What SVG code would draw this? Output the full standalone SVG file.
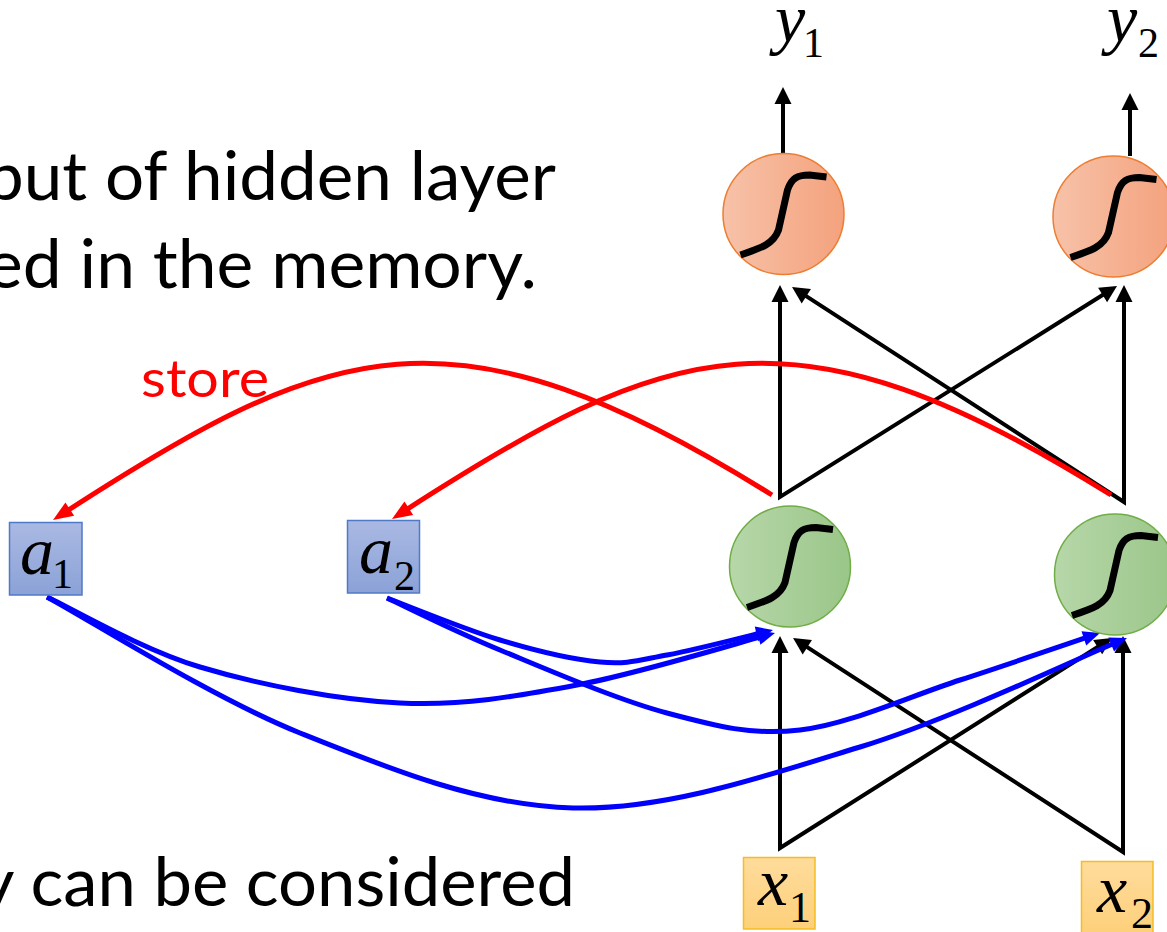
<svg xmlns="http://www.w3.org/2000/svg" xmlns:xlink="http://www.w3.org/1999/xlink" width="1167" height="932" viewBox="0 0 1167 932">
<style>
.txt{font-family:Lato,"Liberation Sans",sans-serif;fill:#000}
.math{font-family:"Liberation Serif","Times New Roman",serif;fill:#000}
.it{font-style:italic}
.blk{fill:none;stroke:#000;stroke-width:4;stroke-linejoin:miter}
.red{fill:none;stroke:#ff0000;stroke-width:5}
.blu{fill:none;stroke:#0000ff;stroke-width:5}
.sig{fill:none;stroke:#000;stroke-width:7}
.onode{fill:url(#gOr);stroke:#ed7d31;stroke-width:1.5}
.gnode{fill:url(#gGr);stroke:#70ad47;stroke-width:1.5}
.abox{fill:url(#gBl);stroke:#4f7ac8;stroke-width:1.5}
.xbox{fill:url(#gYe);stroke:#f5bd20;stroke-width:1.5}
</style>
<defs>
<linearGradient id="gOr" x1="0" y1="0" x2="1" y2="0"><stop offset="0" stop-color="#f7c2a9"/><stop offset="1" stop-color="#f4a27d"/></linearGradient>
<linearGradient id="gGr" x1="0" y1="0" x2="1" y2="0"><stop offset="0" stop-color="#b7d7a9"/><stop offset="1" stop-color="#9ac689"/></linearGradient>
<linearGradient id="gBl" x1="0" y1="0" x2="0" y2="1"><stop offset="0" stop-color="#aab9e3"/><stop offset="1" stop-color="#8ba2d7"/></linearGradient>
<linearGradient id="gYe" x1="0" y1="0" x2="0" y2="1"><stop offset="0" stop-color="#ffdc9c"/><stop offset="1" stop-color="#fdd07a"/></linearGradient>
<path id="sigmoid" class="sig" d="M-43,41 C-22,34 -10,30 -5,16 L4,-24 C8,-36 14,-39 26,-39 L43,-37"/>
<marker id="ab" markerUnits="userSpaceOnUse" orient="auto" overflow="visible" refX="0" refY="0" markerWidth="1" markerHeight="1"><path d="M9,0 L-8,-8.5 L-8,8.5 z" fill="#000"/></marker>
<marker id="abs" markerUnits="userSpaceOnUse" orient="auto-start-reverse" overflow="visible" refX="0" refY="0" markerWidth="1" markerHeight="1"><path d="M9,0 L-8,-8.5 L-8,8.5 z" fill="#000"/></marker>
<marker id="ar" markerUnits="userSpaceOnUse" orient="auto" overflow="visible" refX="0" refY="0" markerWidth="1" markerHeight="1"><path d="M10,0 L-10,-8 L-10,8 z" fill="#ff0000"/></marker>
<marker id="abl" markerUnits="userSpaceOnUse" orient="auto" overflow="visible" refX="0" refY="0" markerWidth="1" markerHeight="1"><path d="M10,0 L-7,-7.5 L-7,7.5 z" fill="#0000ff"/></marker>
</defs>
<rect width="1167" height="932" fill="#fff"/>

<g id="text-block">
<text class="txt" x="-15" y="200" font-size="68" textLength="571" lengthAdjust="spacingAndGlyphs">put of hidden layer</text>
<text class="txt" x="-14" y="288" font-size="68" textLength="551" lengthAdjust="spacingAndGlyphs">ed in the memory.</text>
<text class="txt" x="-21" y="906" font-size="68" textLength="596" lengthAdjust="spacingAndGlyphs">y can be considered</text>
<text class="txt" x="141" y="397" font-size="52" style="fill:#ff0000" textLength="128" lengthAdjust="spacingAndGlyphs">store</text>
</g>

<g id="connectors">
<path class="blk" d="M783,154 L783,96" marker-end="url(#ab)"/>
<path class="blk" d="M1130,156 L1130,102" marker-end="url(#ab)"/>
<path class="blk" d="M780,294 L780,497 L1109.4,290.8" marker-start="url(#abs)" marker-end="url(#ab)"/>
<path class="blk" d="M1124,294 L1124,502 L799.6,291.9" marker-start="url(#abs)" marker-end="url(#ab)"/>
<path class="blk" d="M780,645 L780,848 L1104.4,642.8" marker-start="url(#abs)" marker-end="url(#ab)"/>
<path class="blk" d="M1123,645 L1123,852 L800.6,642.9" marker-start="url(#abs)" marker-end="url(#ab)"/>

<path class="red" d="M772,495 C452,295 330,340 61.4,514.6" marker-end="url(#ar)"/>
<path class="red" d="M1111,495 C791,295 669,340 400.4,513.6" marker-end="url(#ar)"/>

<path class="blu" d="M47,597 C72.5,608.7 141.2,649.3 200,667 C258.8,684.7 337.2,700 400,703 C462.8,706 514.5,696.7 577,685 C639.5,673.3 742,641.7 765.3,635.6" marker-end="url(#abl)"/>
<path class="blu" d="M47,597 C89.2,619.7 212.3,697.8 300,733 C387.7,768.2 479.7,805.7 573,808 C666.3,810.3 767.7,775.3 860,747 C952.3,718.7 1082.5,656.2 1117.7,641.8" marker-end="url(#abl)"/>
<path class="blu" d="M387,598 C405.8,605 464.5,629.3 500,640 C535.5,650.7 572.2,659.5 600,662 C627.8,664.5 638.2,660.3 667,655 C695.8,649.7 755.3,634.2 763.3,632.3" marker-end="url(#abl)"/>
<path class="blu" d="M387,598 C405.8,606.7 453.3,630.8 500,650 C546.7,669.2 617,699.7 667,713 C717,726.3 751.2,735.5 800,730 C848.8,724.5 910,696.2 960,680 C1010,663.8 1076.7,640.8 1090.5,636.2" marker-end="url(#abl)"/>
</g>

<g id="y1"><text class="math" font-size="68"><tspan class="it" x="775" y="42">y</tspan><tspan x="803" y="57" font-size="42">1</tspan></text></g>
<g id="y2"><text class="math" font-size="68"><tspan class="it" x="1107" y="42">y</tspan><tspan x="1138" y="57" font-size="42">2</tspan></text></g>

<g id="out1" transform="translate(783.5,214)"><circle class="onode" r="60.5"/><use xlink:href="#sigmoid"/></g>
<g id="out2" transform="translate(1113.5,216.5)"><circle class="onode" r="60.5"/><use xlink:href="#sigmoid"/></g>
<g id="hid1" transform="translate(790,566.5)"><circle class="gnode" r="60.5"/><use xlink:href="#sigmoid"/></g>
<g id="hid2" transform="translate(1115,574.5)"><circle class="gnode" r="60.5"/><use xlink:href="#sigmoid"/></g>

<g id="a1"><rect class="abox" x="9.5" y="522.5" width="72.5" height="72.5"/><text class="math" font-size="68"><tspan class="it" x="20" y="574">a</tspan><tspan x="52" y="588" font-size="42">1</tspan></text></g>
<g id="a2"><rect class="abox" x="347.5" y="520.5" width="72" height="72.5"/><text class="math" font-size="68"><tspan class="it" x="359" y="573">a</tspan><tspan x="394" y="590" font-size="42">2</tspan></text></g>

<g id="x1"><rect class="xbox" x="743.5" y="857.5" width="71.5" height="71.5"/><text class="math" font-size="68"><tspan class="it" x="758" y="905">x</tspan><tspan x="789" y="922" font-size="44">1</tspan></text></g>
<g id="x2"><rect class="xbox" x="1081.5" y="861.5" width="71.5" height="72"/><text class="math" font-size="68"><tspan class="it" x="1097" y="912">x</tspan><tspan x="1131" y="928" font-size="44">2</tspan></text></g>
</svg>
